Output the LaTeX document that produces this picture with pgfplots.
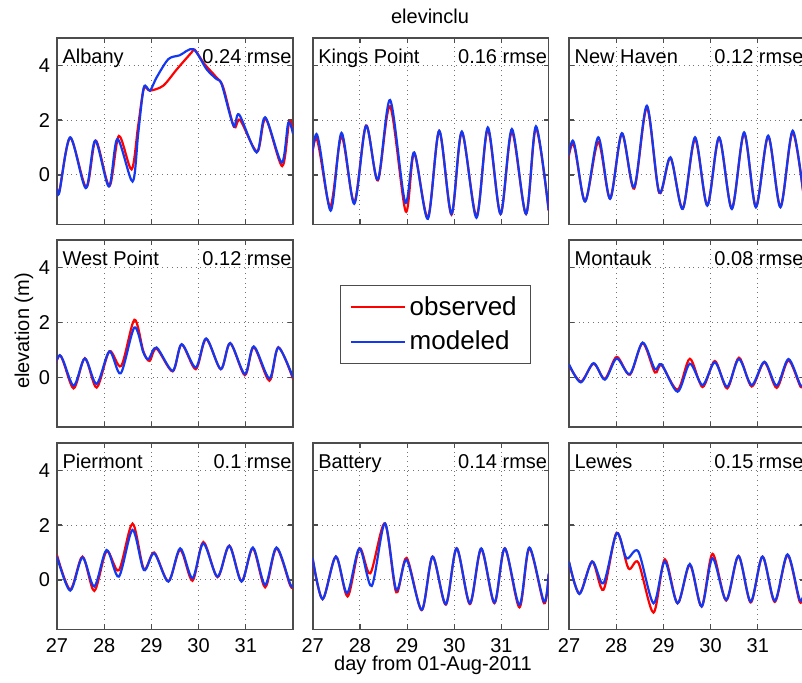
\documentclass[border=0pt]{standalone}
\usepackage{fontspec}
\setmainfont{Liberation Sans}
\usepackage{pgfplots}
\pgfplotsset{compat=1.18}

\definecolor{obscol}{rgb}{1,0,0}
\definecolor{modcol}{rgb}{0.08,0.22,0.95}

\pgfplotsset{
  panel/.style={
    scale only axis, width=118bp, height=93.3bp, anchor=north west,
    xmin=27, xmax=32, ymin=-1.8, ymax=5,
    xtick={27,28,29,30,31}, ytick={0,2,4},
    xticklabels={}, yticklabels={},
    tick align=inside, tick pos=both, major tick length=2.5bp,
    grid=major, grid style={dotted, black!55, line width=0.5bp},
    axis line style={black!70, line width=0.8bp},
    tick style={black!70, line width=0.6bp},
    ticklabel style={font=\fontsize{10bp}{12bp}\selectfont},
    xticklabel style={yshift=-1bp},
    /pgf/number format/assume math mode=true,
  },
  xlab/.style={xticklabels={27,28,29,30,31}},
  ylab/.style={yticklabels={0,2,4}},
  obs/.style={obscol, line width=1.1bp, smooth, mark=none},
  mod/.style={modcol, line width=1.1bp, smooth, mark=none},
}
\newcommand{\station}[2]{%
  \node[anchor=base west, inner sep=0pt, font=\fontsize{10bp}{12bp}\selectfont] at (rel axis cs:0.022,0.862) {#1};
  \node[anchor=base east, inner sep=0pt, font=\fontsize{10bp}{12bp}\selectfont] at (rel axis cs:0.995,0.862) {#2};}

\begin{document}
\begin{tikzpicture}
\useasboundingbox (0,0) rectangle (401bp,-341.5bp);

% top row
\begin{axis}[panel, ylab, at={(28.5bp,-18.85bp)}]
\addplot[obs] coordinates {(27.0,-0.5) (27.05,-0.6) (27.28,1.35) (27.62,-0.45) (27.82,1.25) (28.11,-0.4) (28.31,1.42) (28.58,0.2) (28.72,1.8) (28.84,3.15) (28.97,3.07) (29.25,3.25) (29.54,3.85) (29.85,4.46) (29.92,4.56) (30.12,4.05) (30.38,3.55) (30.52,3.2) (30.75,1.75) (30.88,2.0) (31.24,0.85) (31.42,2.05) (31.77,0.32) (31.92,1.95) (32.0,1.6)};
\addplot[mod] coordinates {(27.0,-0.5) (27.05,-0.63) (27.28,1.37) (27.61,-0.48) (27.81,1.25) (28.10,-0.42) (28.28,1.31) (28.60,-0.24) (28.72,1.5) (28.84,3.19) (28.97,3.07) (29.11,3.55) (29.36,4.22) (29.6,4.36) (29.89,4.58) (30.17,3.85) (30.38,3.49) (30.49,3.3) (30.74,1.79) (30.86,2.2) (31.23,0.82) (31.41,2.1) (31.76,0.45) (31.90,1.9) (32.0,1.5)};
\station{Albany}{0.24 rmse}
\end{axis}

\begin{axis}[panel, at={(156.35bp,-18.85bp)}]
\addplot[obs] coordinates {(26.86,-1.1) (27.07,1.35) (27.37,-1.15) (27.61,1.4) (27.88,-1.0) (28.13,1.8) (28.38,-0.2) (28.64,2.5) (28.97,-1.33) (29.15,0.8) (29.44,-1.55) (29.68,1.6) (29.94,-1.45) (30.16,1.55) (30.47,-1.5) (30.71,1.65) (30.98,-1.42) (31.22,1.57) (31.52,-1.42) (31.73,1.7) (32.0,-1.3)};
\addplot[mod] coordinates {(26.86,-1.2) (27.08,1.49) (27.38,-1.3) (27.61,1.53) (27.88,-1.05) (28.13,1.79) (28.38,-0.17) (28.64,2.73) (28.96,-1.0) (29.15,0.82) (29.44,-1.6) (29.68,1.61) (29.94,-1.42) (30.16,1.58) (30.47,-1.56) (30.71,1.73) (30.98,-1.42) (31.22,1.67) (31.52,-1.42) (31.73,1.77) (32.0,-1.3)};
\station{Kings Point}{0.16 rmse}
\end{axis}

\begin{axis}[panel, at={(284.5bp,-18.85bp)}]
\addplot[obs] coordinates {(26.84,-0.9) (27.08,1.15) (27.34,-0.95) (27.62,1.2) (27.87,-0.85) (28.12,1.5) (28.38,-0.5) (28.65,2.45) (28.91,-0.65) (29.15,0.62) (29.41,-1.22) (29.67,1.3) (29.93,-1.1) (30.18,1.35) (30.45,-1.22) (30.71,1.5) (30.96,-1.15) (31.22,1.4) (31.48,-1.15) (31.74,1.55) (32.0,-1.15)};
\addplot[mod] coordinates {(26.84,-0.9) (27.08,1.25) (27.34,-0.97) (27.62,1.37) (27.87,-0.87) (28.12,1.52) (28.38,-0.45) (28.65,2.52) (28.91,-0.63) (29.15,0.64) (29.41,-1.24) (29.67,1.37) (29.93,-1.12) (30.18,1.37) (30.45,-1.24) (30.71,1.55) (30.96,-1.18) (31.22,1.43) (31.48,-1.18) (31.74,1.61) (32.0,-1.15)};
\station{New Haven}{0.12 rmse}
\end{axis}

% middle row
\begin{axis}[panel, ylab, at={(28.5bp,-120.1bp)}]
\addplot[obs] coordinates {(26.83,-0.35) (27.06,0.8) (27.35,-0.4) (27.59,0.7) (27.84,-0.37) (28.11,0.95) (28.36,0.42) (28.64,2.1) (28.83,0.95) (28.96,0.6) (29.11,1.05) (29.45,0.22) (29.64,1.2) (29.94,0.3) (30.16,1.4) (30.47,0.3) (30.67,1.25) (30.98,0.08) (31.17,1.1) (31.5,-0.12) (31.69,1.1) (32.0,-0.05)};
\addplot[mod] coordinates {(26.83,-0.3) (27.06,0.81) (27.35,-0.3) (27.59,0.69) (27.84,-0.24) (28.11,0.95) (28.35,0.15) (28.64,1.82) (28.83,0.91) (28.94,0.67) (29.11,1.09) (29.45,0.24) (29.64,1.21) (29.94,0.36) (30.16,1.42) (30.47,0.3) (30.67,1.25) (30.98,0.12) (31.17,1.13) (31.5,-0.04) (31.69,1.09) (32.0,0.0)};
\station{West Point}{0.12 rmse}
\end{axis}

\begin{axis}[panel, hide axis, xmin=0, xmax=1, ymin=0, ymax=1, at={(156.35bp,-120.1bp)},
  legend style={at={(0.52,0.548)}, anchor=center, draw=black!70, line width=0.6bp,
    font=\fontsize{13bp}{15bp}\selectfont, inner xsep=5bp, inner ysep=3.5bp, row sep=2.5bp},
  legend cell align=left,
  legend image code/.code={\draw[#1] (0bp,0bp) -- (27bp,0bp);}]
\addlegendimage{obscol, line width=0.8bp}
\addlegendentry{observed}
\addlegendimage{modcol, line width=0.8bp}
\addlegendentry{modeled}
\end{axis}

\begin{axis}[panel, at={(284.5bp,-120.1bp)}]
\addplot[obs] coordinates {(27.0,0.45) (27.25,-0.15) (27.52,0.5) (27.76,-0.05) (28.01,0.75) (28.29,0.1) (28.56,1.25) (28.82,0.18) (28.96,0.45) (29.3,-0.45) (29.56,0.68) (29.83,-0.35) (30.09,0.6) (30.35,-0.4) (30.6,0.72) (30.87,-0.33) (31.14,0.55) (31.4,-0.38) (31.65,0.62) (31.91,-0.35) (32.0,-0.15)};
\addplot[mod] coordinates {(27.0,0.48) (27.25,-0.18) (27.52,0.52) (27.76,-0.08) (28.01,0.69) (28.29,0.12) (28.56,1.27) (28.82,0.3) (28.96,0.48) (29.3,-0.52) (29.56,0.5) (29.83,-0.28) (30.09,0.55) (30.35,-0.34) (30.6,0.67) (30.87,-0.28) (31.14,0.57) (31.4,-0.3) (31.65,0.67) (31.91,-0.3) (32.0,-0.1)};
\station{Montauk}{0.08 rmse}
\end{axis}

% bottom row
\begin{axis}[panel, xlab, ylab, at={(28.5bp,-221.35bp)}]
\addplot[obs] coordinates {(27.0,0.9) (27.28,-0.35) (27.54,0.85) (27.79,-0.4) (28.05,1.05) (28.31,0.35) (28.6,2.05) (28.84,0.4) (29.06,1.0) (29.36,-0.05) (29.61,1.1) (29.87,-0.03) (30.1,1.38) (30.4,0.1) (30.65,1.25) (30.91,-0.05) (31.15,1.15) (31.41,-0.27) (31.65,1.15) (31.94,-0.2) (32.0,-0.22)};
\addplot[mod] coordinates {(27.0,0.85) (27.28,-0.39) (27.54,0.82) (27.79,-0.24) (28.05,1.09) (28.31,0.12) (28.6,1.82) (28.84,0.36) (29.06,0.97) (29.36,-0.06) (29.61,1.15) (29.87,0.06) (30.1,1.33) (30.4,0.12) (30.65,1.24) (30.91,-0.06) (31.15,1.18) (31.41,-0.18) (31.65,1.18) (31.94,-0.15) (32.0,-0.2)};
\station{Piermont}{0.1 rmse}
\end{axis}

\begin{axis}[panel, xlab, at={(156.35bp,-221.35bp)}]
\addplot[obs] coordinates {(27.0,0.75) (27.21,-0.7) (27.49,0.85) (27.74,-0.6) (27.99,1.15) (28.22,0.24) (28.53,2.06) (28.77,-0.45) (28.99,0.8) (29.31,-1.1) (29.54,0.85) (29.82,-0.9) (30.05,1.15) (30.33,-0.88) (30.57,1.12) (30.85,-0.85) (31.07,1.15) (31.38,-1.0) (31.59,1.15) (31.9,-0.85) (32.0,0.2)};
\addplot[mod] coordinates {(27.0,0.79) (27.21,-0.7) (27.49,0.85) (27.73,-0.48) (27.99,1.15) (28.25,-0.22) (28.53,2.06) (28.77,-0.36) (28.99,0.73) (29.31,-1.09) (29.54,0.85) (29.82,-0.88) (30.05,1.15) (30.33,-0.85) (30.57,1.15) (30.85,-0.82) (31.07,1.15) (31.38,-0.91) (31.59,1.18) (31.9,-0.79) (32.0,0.24)};
\station{Battery}{0.14 rmse}
\end{axis}

\begin{axis}[panel, xlab, at={(284.5bp,-221.35bp)}]
\addplot[obs] coordinates {(27.0,0.65) (27.22,-0.5) (27.49,0.67) (27.73,-0.36) (28.01,1.72) (28.26,0.42) (28.47,0.63) (28.79,-1.19) (29.03,0.75) (29.3,-0.85) (29.56,0.55) (29.81,-0.97) (30.04,0.95) (30.33,-0.75) (30.59,0.87) (30.85,-0.82) (31.1,0.85) (31.36,-0.8) (31.63,0.9) (31.89,-0.8) (32.0,-0.35)};
\addplot[mod] coordinates {(27.0,0.67) (27.22,-0.51) (27.49,0.67) (27.73,-0.12) (28.01,1.7) (28.22,0.79) (28.47,1.03) (28.79,-0.85) (29.03,0.67) (29.3,-0.85) (29.56,0.58) (29.81,-0.97) (30.04,0.79) (30.33,-0.73) (30.59,0.87) (30.85,-0.79) (31.1,0.85) (31.36,-0.76) (31.63,0.93) (31.89,-0.73) (32.0,-0.3)};
\station{Lewes}{0.15 rmse}
\end{axis}

% overall labels
\node[anchor=base, font=\fontsize{10bp}{12bp}\selectfont] at (215bp,-11.65bp) {elevinclu};
\node[rotate=90, font=\fontsize{10bp}{12bp}\selectfont] at (12bp,-165.5bp) {elevation (m)};
\node[anchor=base, font=\fontsize{10bp}{12bp}\selectfont] at (216.5bp,-335bp) {day from 01-Aug-2011};
\end{tikzpicture}
\end{document}
